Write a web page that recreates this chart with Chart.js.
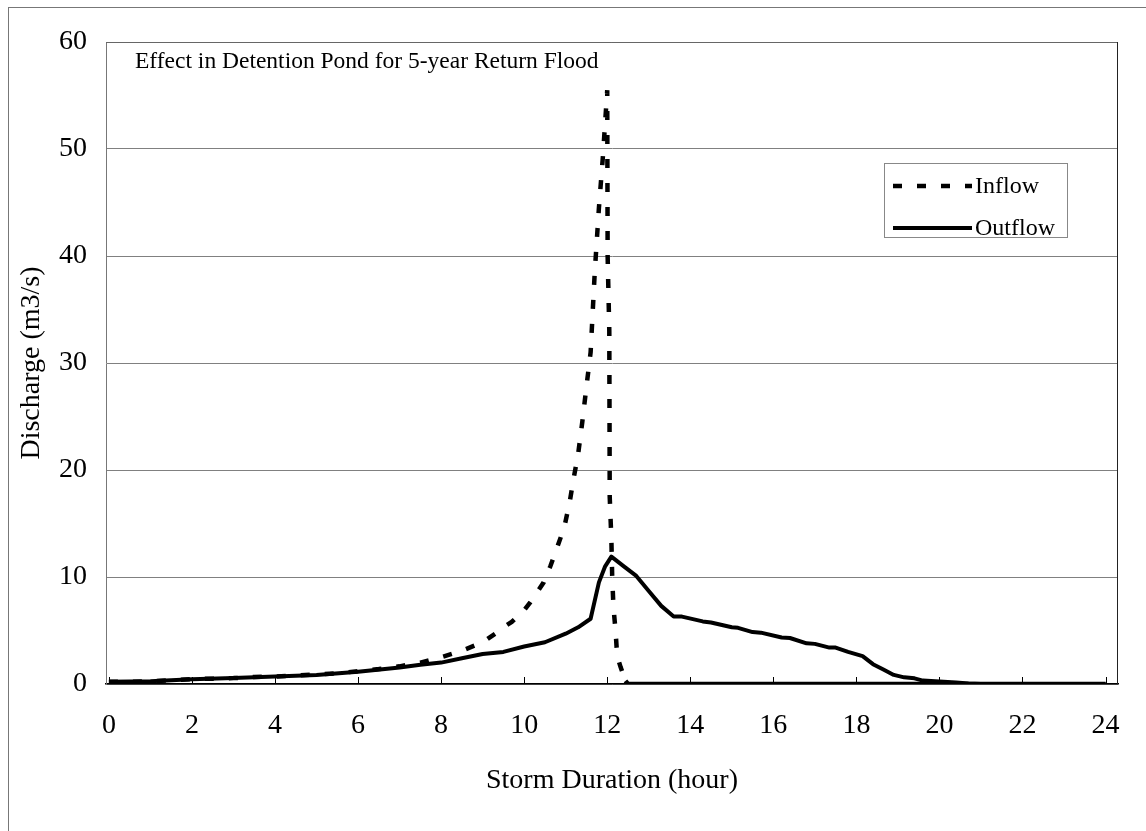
<!DOCTYPE html>
<html>
<head>
<meta charset="utf-8">
<script src="https://cdn.jsdelivr.net/npm/chart.js@4"></script>
<style>
  body { margin: 0; background: #fff; }
  canvas { display: block; }
</style>
</head>
<body>
<canvas id="pond" width="1146" height="831"></canvas>
<script>
// storm hydrograph, 5-year return flood
const inflowHours = [0, 0.5, 1, 1.5, 2, 2.5, 3, 3.5, 4, 4.5, 5, 5.5, 6, 6.5, 7, 7.5, 8, 8.5, 9, 9.3, 9.5, 9.7,
    10, 10.15, 10.3, 10.47, 10.63, 10.78, 10.97, 11.1, 11.2, 11.3, 11.4, 11.5, 11.6, 11.7, 11.8, 11.9,
    12, 12.01, 12.05, 12.06, 12.1, 12.12, 12.15, 12.2, 12.24, 12.32, 12.44, 12.5, 24];
const inflowValues = [0.2, 0.2, 0.25, 0.35, 0.45, 0.5, 0.55, 0.65, 0.7, 0.8, 0.9, 1.0, 1.2, 1.4, 1.65, 2.0, 2.5, 3.1, 3.9, 4.7, 5.3, 5.8,
    6.9, 7.65, 8.5, 9.5, 11.0, 12.6, 14.7, 17.1, 19.4, 21.5, 24.5, 27.8, 31.0, 38.5, 44.5, 49.5,
    55.5, 40.0, 33.0, 17.5, 13.5, 10.0, 7.2, 5.0, 2.6, 1.6, 0.3, 0, 0];

const outflowHours = [0, 1, 1.5, 2, 3, 4, 5, 6, 7, 7.5, 8, 8.5, 9, 9.5, 10, 10.5, 11, 11.3, 11.6, 11.8, 11.95,
    12.1, 12.4, 12.7, 13, 13.3, 13.6, 13.8, 14.3, 14.5, 15, 15.15, 15.5, 15.7, 16.2, 16.4, 16.8, 17, 17.35, 17.5,
    17.8, 18.15, 18.4, 18.65, 18.9, 19.15, 19.4, 19.6, 19.9, 20.4, 20.7, 21, 24];
const outflowValues = [0.2, 0.25, 0.35, 0.45, 0.55, 0.7, 0.85, 1.15, 1.55, 1.8, 2.0, 2.4, 2.8, 3.0, 3.5, 3.9, 4.7, 5.3, 6.1, 9.5, 11.0,
    11.9, 11.0, 10.1, 8.7, 7.3, 6.3, 6.3, 5.85, 5.75, 5.3, 5.25, 4.85, 4.8, 4.35, 4.3, 3.8, 3.75, 3.4, 3.4,
    3.0, 2.6, 1.85, 1.35, 0.85, 0.62, 0.53, 0.32, 0.25, 0.15, 0.05, 0, 0];

const xTickValues = [0, 2, 4, 6, 8, 10, 12, 14, 16, 18, 20, 22, 24];

const seriesNames = ['Inflow', 'Outflow'];
const chartTitle = 'Effect in Detention Pond for 5-year Return Flood';

const serif = "'Liberation Serif', 'Times New Roman', serif";

const toPoints = (xs, ys) => xs.map((x, i) => ({ x: x, y: ys[i] }));

const frameAndLegend = {
    id: 'frameAndLegend',
    beforeDraw(chart) {
        const { ctx } = chart
        ctx.save()
        ctx.fillStyle = '#fff'
        ctx.fillRect(0, 0, chart.width, chart.height)
        // outer frame of the figure
        ctx.strokeStyle = '#777'
        ctx.lineWidth = 1
        ctx.strokeRect(8.5, 7.5, 1300, 1000)
        ctx.restore()
    },
    afterDraw(chart) {
        const { ctx, chartArea: { top, bottom, left, right } } = chart
        const xScale = chart.scales.x
        ctx.save()

        // plot frame (top + right)
        ctx.strokeStyle = '#666'
        ctx.lineWidth = 1
        ctx.beginPath()
        ctx.moveTo(left, top + 0.5)
        ctx.lineTo(right - 0.5, top + 0.5)
        ctx.stroke()
        ctx.strokeStyle = '#222'
        ctx.beginPath()
        ctx.moveTo(right - 0.5, top)
        ctx.lineTo(right - 0.5, bottom)
        ctx.stroke()

        // inside tick marks on the time axis
        ctx.strokeStyle = '#000'
        xTickValues.forEach(v => {
            const px = Math.round(xScale.getPixelForValue(v)) + 0.5
            ctx.beginPath()
            ctx.moveTo(px, bottom)
            ctx.lineTo(px, bottom - 7)
            ctx.stroke()
        })

        // title inside the plot
        ctx.fillStyle = '#000'
        ctx.font = '23.5px ' + serif
        ctx.textBaseline = 'alphabetic'
        ctx.textAlign = 'left'
        ctx.fillText(chartTitle, 135, 68)

        // legend box
        const lx = 884, ly = 163, lw = 183, lh = 74
        ctx.fillStyle = '#fff'
        ctx.fillRect(lx, ly, lw, lh)
        ctx.strokeStyle = '#888'
        ctx.lineWidth = 1
        ctx.strokeRect(lx + 0.5, ly + 0.5, lw, lh)
        const rows = [186, 228]
        chart.data.datasets.forEach((ds, i) => {
            const y = rows[i]
            ctx.strokeStyle = ds.borderColor
            ctx.lineWidth = ds.borderWidth
            ctx.lineCap = 'butt'
            ctx.setLineDash(ds.borderDash || [])
            ctx.beginPath()
            ctx.moveTo(893, y)
            ctx.lineTo(972, y)
            ctx.stroke()
            ctx.setLineDash([])
            ctx.fillStyle = '#000'
            ctx.font = '24px ' + serif
            ctx.textBaseline = 'middle'
            ctx.fillText(ds.label, 975, y + 1)
        })
        ctx.restore()
    }
}

new Chart(document.getElementById('pond'), {
    type: 'line',
    data: {
        datasets: [
            {
                label: seriesNames[0],
                data: toPoints(inflowHours, inflowValues),
                borderColor: '#000',
                borderWidth: 4.5,
                borderDash: [9, 15],
                borderCapStyle: 'butt',
                pointRadius: 0,
                tension: 0,
                // the tail at zero shows up as a solid bar in the original
                segment: {
                    borderDash: c => (c.p1.parsed.y === 0 && c.p0.parsed.y < 1) ? [] : undefined
                },
            },
            {
                label: seriesNames[1],
                data: toPoints(outflowHours, outflowValues),
                borderColor: '#000',
                borderWidth: 4,
                borderJoinStyle: 'round',
                pointRadius: 0,
                tension: 0,
            },
        ],
    },
    options: {
        responsive: false,
        animation: false,
        layout: {
            padding: { top: 42, right: 28, left: 0, bottom: 0 }
        },
        plugins: {
            legend: { display: false },
            tooltip: { enabled: false },
        },
        scales: {
            x: {
                type: 'linear',
                min: -0.07,
                max: 24.3,
                afterBuildTicks: (scale) => {
                    scale.ticks = xTickValues.map(v => ({ value: v }))
                },
                afterFit: (scale) => { scale.height = 147 },
                grid: { display: false, drawTicks: false },
                border: { display: true, color: '#000', width: 1.5 },
                ticks: {
                    color: '#000',
                    padding: 25,
                    maxRotation: 0,
                    autoSkip: false,
                    font: { family: serif, size: 28 },
                },
                title: {
                    display: true,
                    text: 'Storm Duration (hour)',
                    color: '#000',
                    font: { family: serif, size: 28 },
                    padding: { top: 0, bottom: 34 },
                },
            },
            y: {
                min: 0,
                max: 60,
                afterFit: (scale) => { scale.width = 106 },
                grid: { color: '#808080', lineWidth: 1, drawTicks: false },
                border: { display: true, color: '#777', width: 1 },
                ticks: {
                    stepSize: 10,
                    color: '#000',
                    padding: 19,
                    font: { family: serif, size: 28 },
                },
                title: {
                    display: true,
                    text: 'Discharge (m3/s)',
                    color: '#000',
                    font: { family: serif, size: 28 },
                    padding: { top: 15, bottom: 0 },
                },
            },
        },
    },
    plugins: [frameAndLegend]
});
</script>
</body>
</html>
